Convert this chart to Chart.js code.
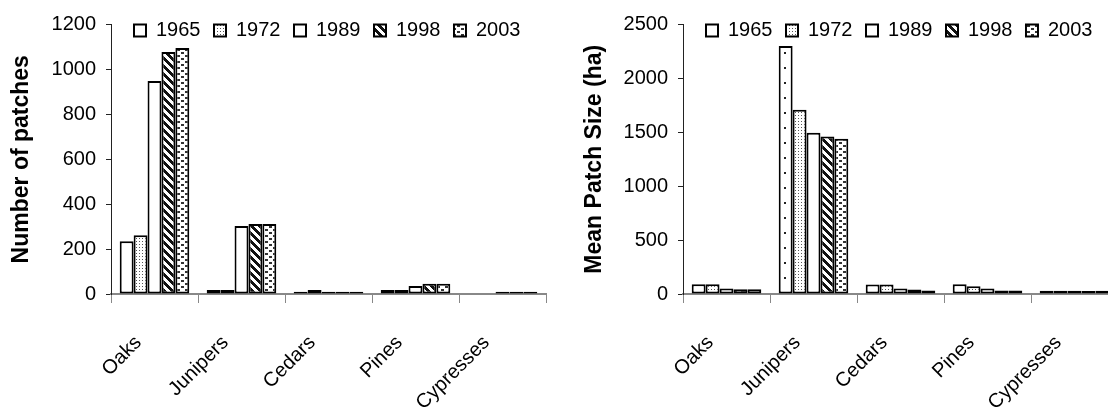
<!DOCTYPE html>
<html>
<head>
<meta charset="utf-8">
<script src="https://cdn.jsdelivr.net/npm/chart.js@4.4.0/dist/chart.umd.min.js"></script>
<style>
  html, body { margin: 0; padding: 0; background: #fff; overflow: hidden; width: 1108px; height: 412px; }
  #left { position: absolute; left: 0; top: 0; width: 554px; height: 412px; }
  #right { position: absolute; left: 554px; top: 0; width: 572px; height: 412px; }
</style>
</head>
<body>
<div id="left"><canvas id="patches" width="554" height="412"></canvas></div>
<div id="right"><canvas id="size" width="572" height="412"></canvas></div>
<script>
// categories and years
const species = ['Oaks', 'Junipers', 'Cedars', 'Pines', 'Cypresses']
const years = ['1965', '1972', '1989', '1998', '2003']

// number of patches, one array per year (Oaks..Cypresses)
const patches1965 = [235, 18, 10, 18, 0]
const patches1972 = [262, 18, 18, 18, 0]
const patches1989 = [948, 303, 10, 36, 10]
const patches1998 = [1078, 312, 10, 46, 10]
const patches2003 = [1095, 312, 10, 46, 10]

// mean patch size (ha)
const size1965 = [90, 2300, 88, 90, 30]
const size1972 = [90, 1710, 88, 72, 30]
const size1989 = [50, 1495, 50, 52, 30]
const size1998 = [45, 1460, 42, 32, 28]
const size2003 = [45, 1440, 32, 32, 30]

const patchTicks = { max: 1200, step: 200 }
const sizeTicks = { max: 2500, step: 500 }

const FONT = "'Liberation Sans', Arial, sans-serif"

// fill patterns for the bars, like the black and white excel fills
function tile(w, h, draw) {
  let c = document.createElement('canvas')
  c.width = w
  c.height = h
  let g = c.getContext('2d')
  g.fillStyle = '#fff'
  g.fillRect(0, 0, w, h)
  draw(g, w, h)
  return g.createPattern(c, 'repeat')
}

function makePatterns() {
  let p = []
  // 1965 sparse dots
  p.push(tile(14, 15, (g) => {
    g.fillStyle = '#222'
    g.fillRect(6, 7, 2, 2)
  }))
  // 1972 fine grey dots
  p.push(tile(3, 3, (g) => {
    g.fillStyle = '#555'
    g.fillRect(1, 1, 1, 1)
  }))
  // 1989 plain white
  p.push('#ffffff')
  // 1998 wide downward diagonal
  p.push(tile(8, 8, (g, w, h) => {
    g.fillStyle = '#111'
    for (let y = 0; y < h; y++) {
      for (let x = 0; x < w; x++) {
        if ((((x - y) % 8) + 8) % 8 < 4) g.fillRect(x, y, 1, 1)
      }
    }
  }))
  // 2003 small dashes
  p.push(tile(8, 6, (g) => {
    g.fillStyle = '#333'
    g.fillRect(1, 1, 3, 2)
    g.fillRect(5, 4, 3, 2)
  }))
  return p
}

const patterns = makePatterns()
const LEGEND_PAD = 13.5

// legend row sits inside the top of the plot, over the bars
const legendInPlot = {
  id: 'legendInPlot',
  afterLayout(chart) {
    let lg = chart.legend
    let a = chart.chartArea
    if (!lg) return
    let h = lg.height
    lg.left = a.left + 23 - LEGEND_PAD
    lg.right = a.right
    lg.width = lg.right - lg.left
    lg.top = 7
    lg.bottom = 7 + h
  }
}

function drawchart(id, series, ticks, title, padLeft, axisWidth) {
  let datasets = series.map((data, i) => ({
    label: years[i],
    data: data,
    backgroundColor: patterns[i],
    borderColor: '#000',
    borderWidth: 2,
    borderSkipped: false,
    categoryPercentage: 0.8,
    barPercentage: 1
  }))

  return new Chart(document.getElementById(id), {
    type: 'bar',
    data: { labels: species, datasets: datasets },
    plugins: [legendInPlot],
    options: {
      responsive: false,
      animation: false,
      // negative top so the legend row does not push the plot down
      layout: { padding: { left: padLeft, top: -19, right: 8, bottom: 0 } },
      plugins: {
        tooltip: { enabled: false },
        legend: {
          position: 'top',
          align: 'start',
          labels: {
            boxWidth: 12,
            boxHeight: 12,
            padding: LEGEND_PAD,
            color: '#000',
            font: { family: FONT, size: 20 }
          }
        }
      },
      scales: {
        x: {
          grid: { drawOnChartArea: false, tickLength: 9, color: '#888', offset: true },
          border: { color: '#888', width: 2 },
          ticks: {
            autoSkip: false,
            minRotation: 45,
            maxRotation: 45,
            padding: 28,
            labelOffset: -16,
            color: '#000',
            font: { family: FONT, size: 20 }
          },
          afterFit(s) { s.height = 118 }
        },
        y: {
          min: 0,
          max: ticks.max,
          ticks: {
            stepSize: ticks.step,
            padding: 10,
            color: '#000',
            font: { family: FONT, size: 20 },
            callback: (v) => String(v)
          },
          grid: { drawOnChartArea: false, tickLength: 5, color: '#222' },
          border: { color: '#222', width: 1 },
          title: {
            display: true,
            text: title,
            color: '#000',
            font: { family: FONT, size: 23, weight: 'bold' },
            padding: { top: 8, bottom: 0 }
          },
          afterFit(s) { s.width = axisWidth }
        }
      }
    }
  })
}

drawchart('patches', [patches1965, patches1972, patches1989, patches1998, patches2003],
  patchTicks, 'Number of patches', 0, 111)
drawchart('size', [size1965, size1972, size1989, size1998, size2003],
  sizeTicks, 'Mean Patch Size (ha)', 19, 110)
</script>
</body>
</html>
